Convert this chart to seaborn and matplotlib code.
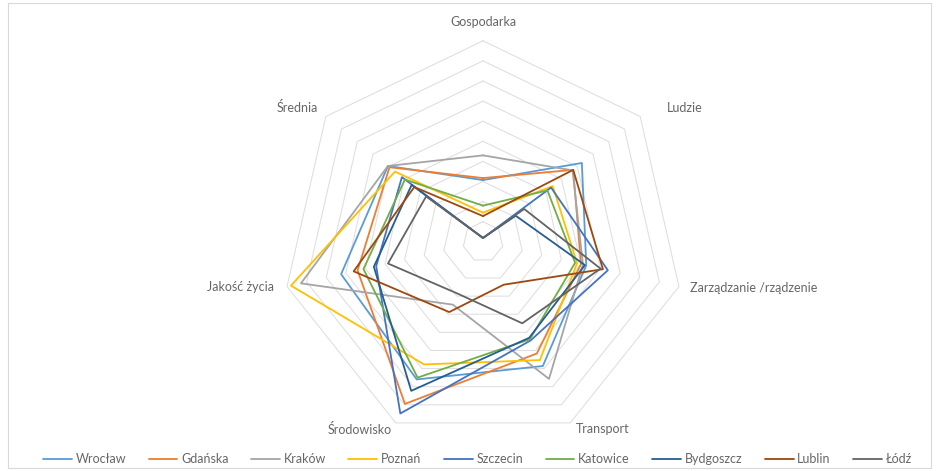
import numpy as np
import pandas as pd
import matplotlib
matplotlib.use("Agg")
import matplotlib.pyplot as plt
import seaborn as sns
from matplotlib.lines import Line2D
from matplotlib.patches import Rectangle

# ---------------- data ----------------
categories = ["Gospodarka", "Ludzie", "Zarządzanie /rządzenie", "Transport",
              "Środowisko", "Jakość życia", "Średnia"]
cities = ["Wrocław", "Gdańska", "Kraków", "Poznań", "Szczecin",
          "Katowice", "Bydgoszcz", "Lublin", "Łódź"]

wroclaw   = [3.07, 6.29, 5.27, 6.86, 7.60, 7.24, 6.05]
gdansk    = [3.17, 5.74, 5.00, 6.17, 8.95, 6.40, 5.95]
krakow    = [4.30, 5.70, 5.10, 7.57, 3.47, 9.29, 6.05]
poznan    = [1.45, 4.44, 4.80, 6.53, 6.77, 9.80, 5.60]
szczecin  = [0.19, 4.33, 6.37, 5.45, 9.48, 5.45, 5.16]
katowice  = [1.80, 4.10, 4.70, 5.38, 7.50, 6.10, 4.97]
bydgoszcz = [0.19, 2.08, 5.20, 5.30, 8.23, 5.57, 4.54]
lublin    = [1.28, 5.74, 6.12, 2.37, 3.88, 6.60, 4.37]
lodz      = [0.19, 2.62, 6.00, 4.50, 2.87, 4.85, 3.62]

series = [wroclaw, gdansk, krakow, poznan, szczecin, katowice, bydgoszcz, lublin, lodz]
colors = ["#5B9BD5", "#ED7D31", "#A5A5A5", "#FFC000", "#4472C4",
          "#70AD47", "#255E91", "#9E480E", "#636363"]
ring_levels = list(range(1, 11))

# ---------------- setup ----------------
sns.set_theme(style="white")
plt.rcParams["font.family"] = ["Lato", "DejaVu Sans"]
TXT = "#666666"

W, H = 939, 471
CX, CY, UNIT = 483.0, 241.8, 20.1

fig = plt.figure(figsize=(W / 100, H / 100), dpi=100)
ax = fig.add_axes([0, 0, 1, 1])

n = len(categories)
theta = np.arange(n) * 2 * np.pi / n

# heptagonal grid
for lv in ring_levels:
    th = np.append(theta, theta[0])
    ax.plot(lv * np.sin(th), lv * np.cos(th), color="#DEDEDE", lw=0.75, zorder=1)

# data table
rows = []
for city, vals in zip(cities, series):
    v = list(vals) + [vals[0]]
    th = np.append(theta, theta[0])
    for i, (r, t) in enumerate(zip(v, th)):
        rows.append({"city": city, "order": i, "x": r * np.sin(t), "y": r * np.cos(t)})
df = pd.DataFrame(rows)

sns.lineplot(data=df, x="x", y="y", hue="city", hue_order=cities,
             palette=colors, sort=False, estimator=None, lw=1.3,
             legend=False, ax=ax, zorder=3)
ax.set_xlim(-CX / UNIT, (W - CX) / UNIT)
ax.set_ylim(-(H - CY) / UNIT, CY / UNIT)
ax.axis("off")


def P(px, py):
    return (px - CX) / UNIT, (CY - py) / UNIT


label_pos = [
    (483, 22, "center"),
    (667, 108, "left"),
    (690, 288, "left"),
    (576, 429, "left"),
    (392, 429, "right"),
    (274, 287, "right"),
    (318, 108, "right"),
]
for cat, (px, py, ha) in zip(categories, label_pos):
    x, y = P(px, py)
    ax.text(x, y, cat, ha=ha, va="center", fontsize=9, color=TXT)

# legend
handles = [Line2D([0], [0], color=c, lw=1.3) for c in colors]
fig.legend(handles, cities, loc="center", bbox_to_anchor=(0.5 + 8 / W, 1 - 459 / H),
           ncol=len(cities), frameon=False, fontsize=9, labelcolor=TXT,
           handlelength=2.3, handletextpad=0.3, columnspacing=1.8)

# chart border
fig.patches.append(Rectangle((8 / W, 3 / H), (W - 16) / W, (H - 6) / H,
                             transform=fig.transFigure, fill=False,
                             edgecolor="#D9D9D9", lw=0.8))

fig.savefig("out.png", dpi=100)
